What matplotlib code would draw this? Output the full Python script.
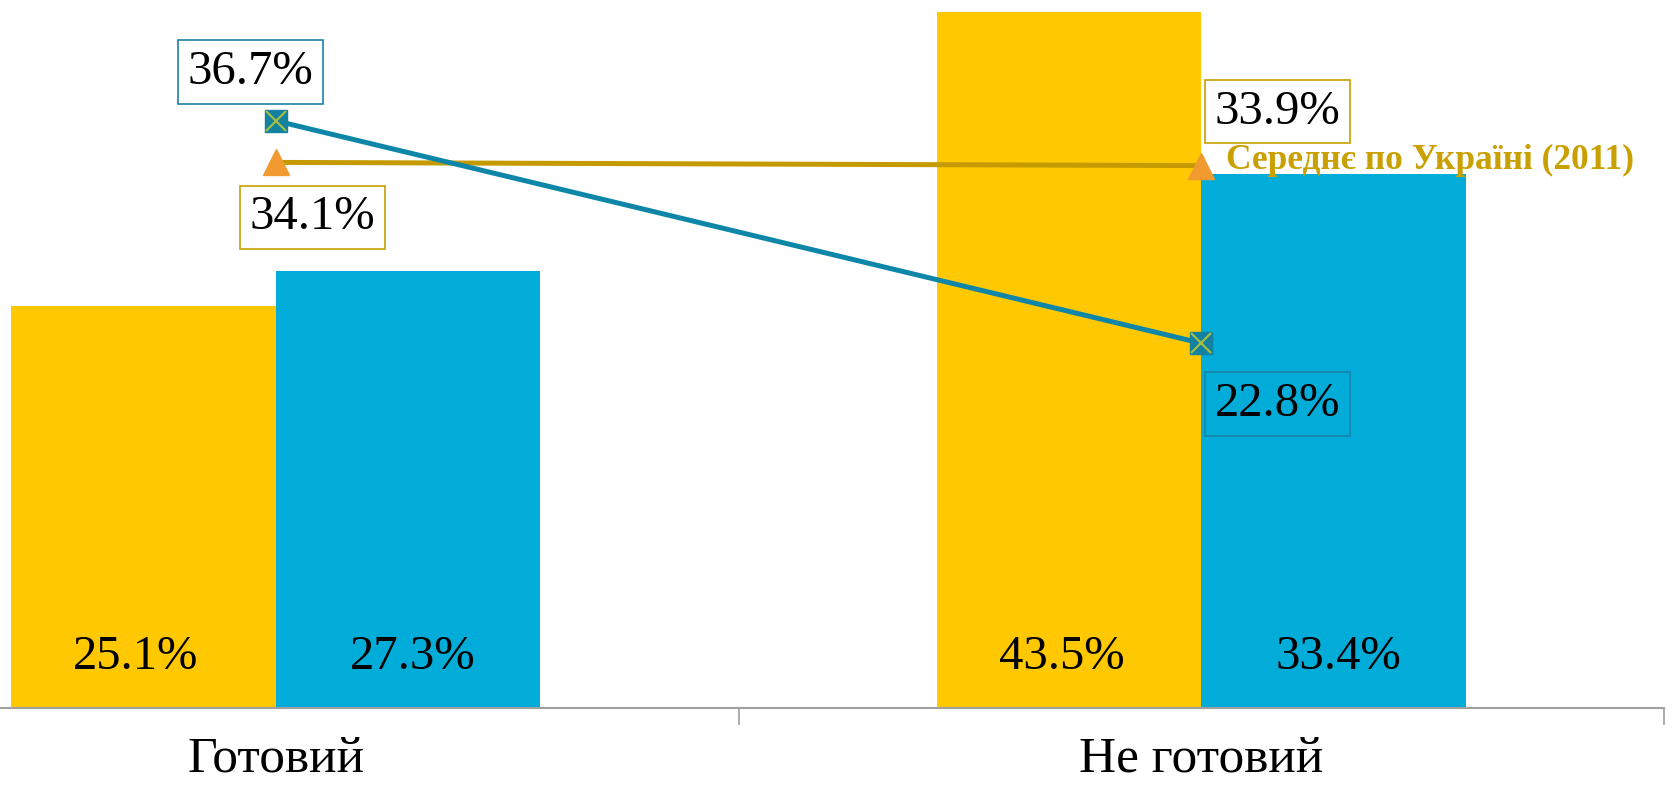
import numpy as np
import matplotlib
matplotlib.use('Agg')
from matplotlib import pyplot as plt

# data
categories = ['Готовий', 'Не готовий']
bar_yellow = [25.1, 43.5]
bar_blue = [27.3, 33.4]
line_blue = [36.7, 22.8]
line_gold = [34.1, 33.9]
avg_label = 'Середнє по Україні (2011)'

plt.rcParams['font.family'] = ['Liberation Serif', 'DejaVu Serif']

fig = plt.figure(figsize=(16.69, 7.87), dpi=100)
ax = fig.add_axes([0, 0.1004, 1664 / 1669, 0.8996])

x = np.arange(len(categories))
w = 0.286
ax.bar(x - w / 2, bar_yellow, width=w, color='#FFC800', zorder=1)
ax.bar(x + w / 2, bar_blue, width=w, color='#02ACD8', zorder=1)

for xi, v in zip(x - w / 2, bar_yellow):
    ax.text(xi - 0.008, 3.2, f'{v}%', ha='center', va='center', fontsize=35, zorder=5)
for xi, v in zip(x + w / 2, bar_blue):
    ax.text(xi + 0.005, 3.2, f'{v}%', ha='center', va='center', fontsize=35, zorder=5)

# lines
ax.plot(x, line_gold, color='#C49A00', lw=3.6, marker='^', ms=19,
        mfc='#F09A30', mec='#F09A30', zorder=3)
ax.plot(x, line_blue, color='#0E86A8', lw=3.6, marker='s', ms=16.5,
        mfc='#13829E', mec='#13829E', zorder=4)
ax.plot(x, line_blue, ls='none', marker='x', ms=14, mew=1.5, mec='#A8C040', zorder=4)

# line labels (offsets in pixels)
blue_off = [(-25, 49), (76, -61)]
gold_off = [(37, -55), (76, 54)]
for xi, v, off in zip(x, line_blue, blue_off):
    ax.annotate(f'{v}%', (xi, v), xytext=off, textcoords='offset pixels',
                ha='center', va='center', fontsize=35, zorder=6,
                bbox=dict(boxstyle='square,pad=0.2', fc='none', ec='#1B84A8', lw=1.2))
for xi, v, off in zip(x, line_gold, gold_off):
    ax.annotate(f'{v}%', (xi, v), xytext=off, textcoords='offset pixels',
                ha='center', va='center', fontsize=35, zorder=6,
                bbox=dict(boxstyle='square,pad=0.2', fc='none', ec='#C9A000', lw=1.2))

ax.annotate(avg_label, (x[1], line_gold[1]), xytext=(25, 5), textcoords='offset pixels',
            ha='left', va='center', fontsize=25.5, fontweight='bold', color='#C9A000', zorder=6)

ax.set_xlim(-0.298, 1.5)
ax.set_ylim(0, 44.25)
ax.set_yticks([])
for s in ['top', 'right', 'left']:
    ax.spines[s].set_visible(False)
ax.spines['bottom'].set_color('#A0A0A0')
ax.spines['bottom'].set_linewidth(1.5)

ax.set_xticks([0.5, 1.5])
ax.set_xticklabels([])
ax.tick_params(axis='x', which='major', length=12, width=1.2, color='#A0A0A0')
ax.set_xticks(x, minor=True)
ax.set_xticklabels(categories, minor=True, fontsize=37)
ax.tick_params(axis='x', which='minor', length=0, pad=20)

plt.savefig('out.png', dpi=100)
